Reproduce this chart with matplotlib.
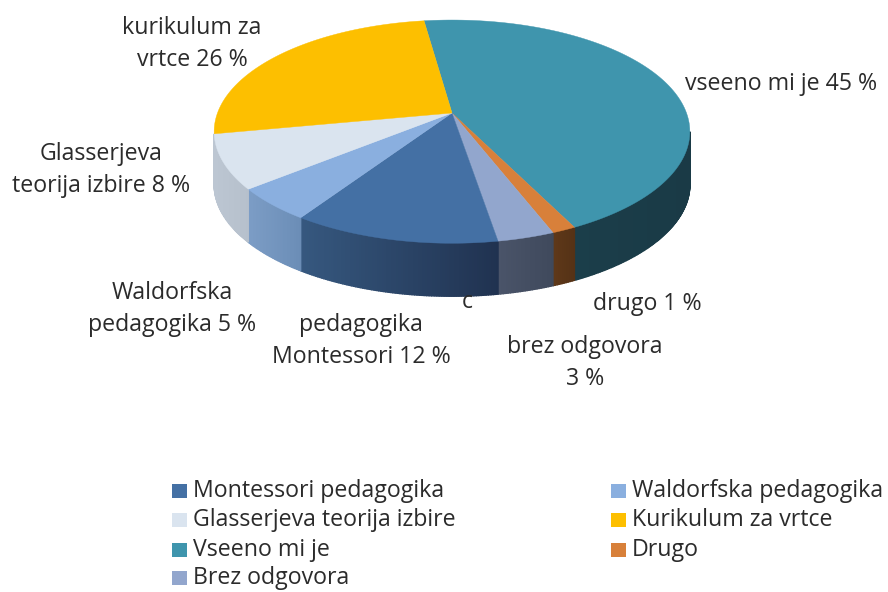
import numpy as np
import matplotlib
matplotlib.use("Agg")
import matplotlib.pyplot as plt
from matplotlib.patches import Polygon, Rectangle

# clockwise from the top of the pie
slices = ["Vseeno mi je", "Drugo", "Brez odgovora", "Montessori pedagogika",
          "Waldorfska pedagogika", "Glasserjeva teorija izbire", "Kurikulum za vrtce"]
values = [44.9, 1.4, 3.3, 12.0, 4.8, 7.85, 25.75]
top_colors = ["#3f95ad", "#d8803a", "#92a6cd", "#4470a4", "#8aafdf", "#dae4ef", "#fdbf00"]
side_left = ["#1b3e4a", "#5e3819", "#4a5469", "#36587f", "#7c9dc6", "#bcc6d2", "#8a6a00"]
side_right = ["#1a3a46", "#553216", "#3f495c", "#203250", "#6b8db6", "#b6c0cc", "#8a6a00"]

legend_labels = ["Montessori pedagogika", "Waldorfska pedagogika",
                 "Glasserjeva teorija izbire", "Kurikulum za vrtce",
                 "Vseeno mi je", "Drugo", "Brez odgovora"]

cx, cy = 452, 113
rx, ry, k = 234.5, 108.5, 0.167
depth = 53
start = -8.0
# the wall only shows between the two widest points of the ellipse
wall_a = np.degrees(np.arccos(-k))
wall_b = 360 - wall_a


def project(theta):
    t = np.radians(theta)
    u, v = np.sin(t), np.cos(t)
    return cx + rx * u / (1 + k * v), cy - ry * v / (1 + k * v)


def mix(c1, c2, f):
    a = np.array(matplotlib.colors.to_rgb(c1))
    b = np.array(matplotlib.colors.to_rgb(c2))
    return a + (b - a) * f


fig = plt.figure(figsize=(8.88, 5.92), dpi=100)
ax = fig.add_axes([0, 0, 1, 1])
ax.set_xlim(0, 888)
ax.set_ylim(592, 0)
ax.axis("off")
plt.rcParams["font.family"] = ["Open Sans", "DejaVu Sans"]

edges = start + np.cumsum([0] + values) * 3.6

# side wall first, in thin strips so the shading runs across each slice
for i in range(len(values)):
    a0, a1 = max(edges[i], wall_a), min(edges[i + 1], wall_b)
    if a1 - a0 < 1.5:
        continue
    angles = np.linspace(a0, a1, max(int((a1 - a0) * 2), 2) + 1)
    for j in range(len(angles) - 1):
        x0, y0 = project(angles[j])
        x1, y1 = project(angles[j + 1])
        f = 1 - (0.5 * (x0 + x1) - min(project(a0)[0], project(a1)[0])) / max(abs(project(a1)[0] - project(a0)[0]), 1)
        col = mix(side_right[i], side_left[i], f)
        ax.add_patch(Polygon([(x0, y0), (x1, y1), (x1, y1 + depth), (x0, y0 + depth)],
                             closed=True, fc=col, ec=col, lw=1.0, zorder=2))

# top face
for i in range(len(values)):
    angles = np.linspace(edges[i], edges[i + 1], 120)
    xs, ys = project(angles)
    pts = [(cx, cy)] + list(zip(xs, ys))
    ax.add_patch(Polygon(pts, closed=True, fc=top_colors[i], ec=top_colors[i], lw=0.3, zorder=3))

label_color = "#2b2b2b"
fs = 16.7
labels = [
    (192, 44, "kurikulum za\nvrtce 26 %"),
    (781, 84, "vseeno mi je 45 %"),
    (101, 170, "Glasserjeva\nteorija izbire 8 %"),
    (172, 309, "Waldorfska\npedagogika 5 %"),
    (361, 341, "pedagogika\nMontessori 12 %"),
    (647, 304, "drugo 1 %"),
    (585, 363, "brez odgovora\n3 %"),
    (467, 302, "c"),
]
for x, y, s in labels:
    ax.text(x, y, s, ha="center", va="center", fontsize=fs, color=label_color,
            linespacing=1.4, zorder=5)

legend_x = [172, 611]
legend_y = [491, 520, 550, 578]
for i, s in enumerate(legend_labels):
    lx = legend_x[i % 2]
    ly = legend_y[i // 2]
    col = top_colors[slices.index(s)]
    ax.add_patch(Rectangle((lx, ly - 7), 15, 14, fc=col, ec="none", zorder=4))
    ax.text(lx + 21, ly, s, ha="left", va="center", fontsize=fs, color=label_color, zorder=5)

fig.savefig("out.png", dpi=100)
